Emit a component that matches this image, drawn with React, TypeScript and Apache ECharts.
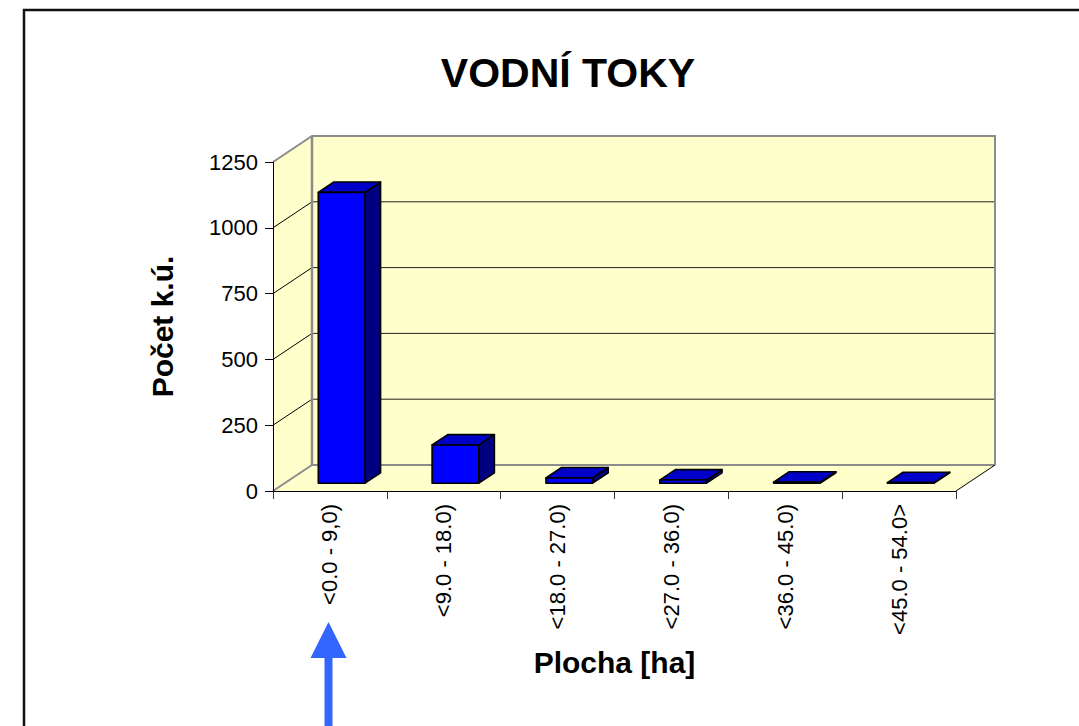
import React, { useEffect, useRef } from "react";
import * as echarts from "echarts";

const categories = ["<0.0 - 9,0)", "<9.0 - 18.0)", "<18.0 - 27.0)", "<27.0 - 36.0)", "<36.0 - 45.0)", "<45.0 - 54.0>"];
const counts = [1105, 145, 20, 12, 4, 2];
const yTicks = [0, 250, 500, 750, 1000, 1250];
const chartTitle = "VODNÍ TOKY";
const yName = "Počet k.ú.";
const xName = "Plocha [ha]";

const DX = 39;
const DY = -26;
const WALL = "#FFFFCC";
const EDGE = "#8C8C8C";
const FONT = "Arial, 'Liberation Sans', sans-serif";

export default function App() {
  const ref = useRef<HTMLDivElement>(null);
  useEffect(() => {
    const chart = echarts.init(ref.current!, undefined, { renderer: "svg" });
    const yMin = yTicks[0];
    const yMax = yTicks[yTicks.length - 1];
    const step = yTicks[1] - yTicks[0];

    const wallsRender = (params: any, api: any) => {
      const band = api.size([1, 0])[0];
      const n = categories.length;
      const x0 = api.coord([0, yMin])[0] - band / 2;
      const x1 = api.coord([n - 1, yMin])[0] + band / 2;
      const yb = api.coord([0, yMin])[1];
      const yt = api.coord([0, yMax])[1];
      const ch: any[] = [];
      ch.push({ type: "polygon", shape: { points: [[x0 + DX, yt + DY], [x1 + DX, yt + DY], [x1 + DX, yb + DY], [x0 + DX, yb + DY]] }, style: { fill: WALL } });
      ch.push({ type: "polygon", shape: { points: [[x0, yt], [x0 + DX, yt + DY], [x0 + DX, yb + DY], [x0, yb]] }, style: { fill: WALL } });
      ch.push({ type: "polygon", shape: { points: [[x0, yb], [x0 + DX, yb + DY], [x1 + DX, yb + DY], [x1, yb]] }, style: { fill: WALL } });
      yTicks.slice(1, -1).forEach((v) => {
        const y = api.coord([0, v])[1];
        ch.push({ type: "line", shape: { x1: x0 + DX, y1: y + DY, x2: x1 + DX, y2: y + DY }, style: { stroke: "#222", lineWidth: 1 } });
        ch.push({ type: "line", shape: { x1: x0, y1: y, x2: x0 + DX, y2: y + DY }, style: { stroke: "#000", lineWidth: 1 } });
      });
      ch.push({ type: "polyline", shape: { points: [[x0, yt], [x0 + DX, yt + DY], [x1 + DX, yt + DY], [x1 + DX, yb + DY]] }, style: { stroke: EDGE, lineWidth: 2, fill: "none" } });
      ch.push({ type: "line", shape: { x1: x0 + DX, y1: yt + DY, x2: x0 + DX, y2: yb + DY }, style: { stroke: EDGE, lineWidth: 2.5 } });
      ch.push({ type: "polyline", shape: { points: [[x0, yb], [x0 + DX, yb + DY], [x1 + DX, yb + DY]] }, style: { stroke: EDGE, lineWidth: 2, fill: "none" } });
      ch.push({ type: "line", shape: { x1: x1, y1: yb, x2: x1 + DX, y2: yb + DY }, style: { stroke: "#000", lineWidth: 1 } });
      return { type: "group", children: ch };
    };

    const barRender = (params: any, api: any) => {
      const i = api.value(0);
      const v = api.value(1);
      const base = api.coord([i, 0]);
      const top = api.coord([i, v]);
      const band = api.size([1, 0])[0];
      const hw = band * 0.205;
      const f1 = 0.3;
      const f2 = 0.7;
      const P = (x: number, y: number, f: number) => [x + f * DX, y + f * DY];
      const c = base[0];
      const by = base[1];
      const ty = top[1];
      const st = { stroke: "#000", lineWidth: 1.6, lineJoin: "round" };
      return {
        type: "group",
        children: [
          { type: "polygon", shape: { points: [P(c + hw, ty, f1), P(c + hw, ty, f2), P(c + hw, by, f2), P(c + hw, by, f1)] }, style: { fill: "#000080", ...st } },
          { type: "polygon", shape: { points: [P(c - hw, ty, f1), P(c - hw, ty, f2), P(c + hw, ty, f2), P(c + hw, ty, f1)] }, style: { fill: "#0000C8", ...st } },
          { type: "polygon", shape: { points: [P(c - hw, ty, f1), P(c + hw, ty, f1), P(c + hw, by, f1), P(c - hw, by, f1)] }, style: { fill: "#0000FF", ...st } },
        ],
      };
    };

    chart.setOption({
      animation: false,
      backgroundColor: "#FFFFFF",
      title: {
        text: chartTitle,
        left: 563,
        top: 47,
        textAlign: "center",
        textStyle: { fontFamily: FONT, fontSize: 41, fontWeight: "bold", color: "#000" },
      },
      grid: { left: 273, top: 162, width: 683, height: 329 },
      xAxis: {
        type: "category",
        data: categories,
        boundaryGap: true,
        name: xName,
        nameLocation: "middle",
        nameGap: 156,
        nameTextStyle: { fontFamily: FONT, fontSize: 30, fontWeight: "bold", color: "#000" },
        axisLine: { lineStyle: { color: "#000", width: 1 } },
        axisTick: { show: true, alignWithLabel: false, length: 8, lineStyle: { color: "#333", width: 1 } },
        axisLabel: { rotate: 90, margin: 13, fontFamily: FONT, fontSize: 22, color: "#000", interval: 0 },
        splitLine: { show: false },
      },
      yAxis: {
        type: "value",
        min: yMin,
        max: yMax,
        interval: step,
        name: yName,
        nameLocation: "middle",
        nameGap: 96,
        nameRotate: 90,
        nameTextStyle: { fontFamily: FONT, fontSize: 30, fontWeight: "bold", color: "#000" },
        axisLine: { show: true, lineStyle: { color: "#000", width: 1 } },
        axisTick: { show: true, length: 8, lineStyle: { color: "#000", width: 1 } },
        axisLabel: { margin: 15, fontFamily: FONT, fontSize: 22, color: "#000", formatter: (v: number) => String(v) },
        splitLine: { show: false },
      },
      graphic: [
        { type: "rect", shape: { x: 24, y: 10, width: 1100, height: 800 }, style: { fill: "none", stroke: "#111", lineWidth: 2.5 }, z: 100 },
        { type: "rect", shape: { x: 324.5, y: 655, width: 8, height: 80 }, style: { fill: "#3366FF" }, z: 100 },
        { type: "polygon", shape: { points: [[310.5, 658], [346.5, 658], [328.5, 622]] }, style: { fill: "#3366FF" }, z: 100 },
      ],
      series: [
        { type: "custom", z: -1, clip: false, silent: true, renderItem: wallsRender, data: [[0, 0]] },
        { type: "custom", z: 3, clip: false, renderItem: barRender, data: counts.map((v, i) => [i, v]) },
      ],
    });
    return () => chart.dispose();
  }, []);
  return <div ref={ref} style={{ position: "fixed", left: 0, top: 0, width: 1079, height: 726 }} />;
}
